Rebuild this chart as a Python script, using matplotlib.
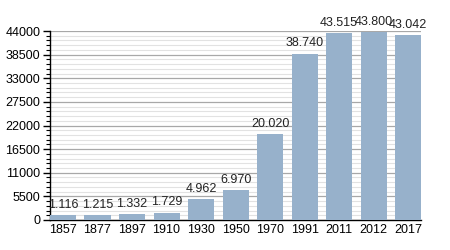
import matplotlib
matplotlib.use("Agg")
import matplotlib.pyplot as plt
from matplotlib.ticker import MultipleLocator

years = ["1857", "1877", "1897", "1910", "1930", "1950", "1970", "1991", "2011", "2012", "2017"]
population = [1116, 1215, 1332, 1729, 4962, 6970, 20020, 38740, 43515, 43800, 43042]
yticks = [0, 5500, 11000, 16500, 22000, 27500, 33000, 38500, 44000]

plt.rcParams['font.family'] = ['Liberation Sans', 'DejaVu Sans']

fig = plt.figure(figsize=(4.5, 2.5), dpi=100)
ax = fig.add_axes([0.111, 0.12, 0.825, 0.756])

w = 0.755
x = list(range(len(years)))
ax.bar(x, population, width=w, color='#97b1cb', zorder=3)
for xi, v in zip(x, population):
    label = f"{v:,}".replace(",", ".")
    ax.annotate(label, (xi, v), xytext=(0, 3), textcoords='offset points',
                ha='center', va='bottom', fontsize=9, color='#222222')

ax.set_xlim(-w / 2, len(years) - 1 + w / 2)
ax.set_ylim(0, 44000)
ax.set_yticks(yticks)
ax.yaxis.set_minor_locator(MultipleLocator(1100))
ax.set_xticks(x)
ax.set_xticklabels(years)

ax.grid(axis='y', which='major', color='#a8a8a8', linewidth=0.9, zorder=0)
ax.grid(axis='y', which='minor', color='#e2e2e2', linewidth=0.8, zorder=0)

for s in ['top', 'right']:
    ax.spines[s].set_visible(False)
ax.spines['left'].set_linewidth(1.0)
ax.spines['bottom'].set_linewidth(1.0)
ax.tick_params(axis='y', which='major', length=5, width=1, labelsize=9, pad=2)
ax.tick_params(axis='y', which='minor', length=3, width=0.8)
ax.tick_params(axis='x', length=0, labelsize=9, pad=3)

fig.savefig("out.png", dpi=100)
